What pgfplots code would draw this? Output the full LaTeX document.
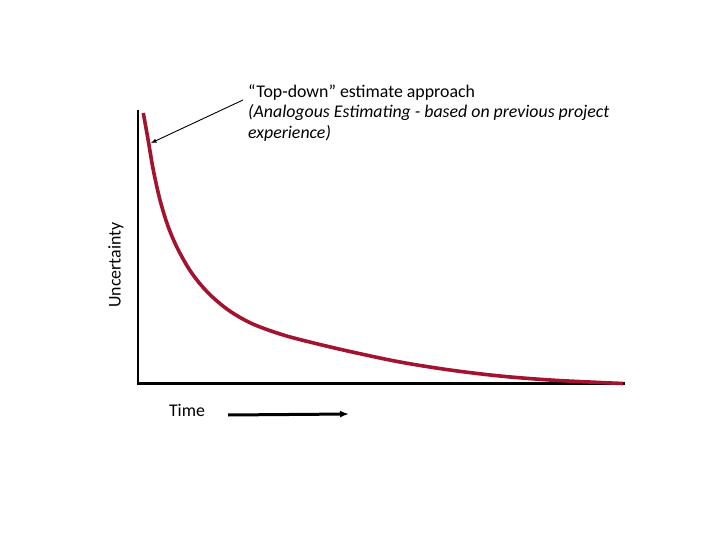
\documentclass[border=0pt]{standalone}
\usepackage{pgfplots}
\pgfplotsset{compat=1.18}
\usetikzlibrary{arrows.meta}
\usepackage{fontspec}
\setmainfont{Carlito}
\definecolor{curvered}{HTML}{A3132F}
\begin{document}
\begin{tikzpicture}
\begin{axis}[
  scale only axis, width=720bp, height=540bp,
  xmin=0, xmax=720, ymin=0, ymax=540, y dir=reverse,
  hide axis, clip=false,
]
\fill[white] (axis cs:0,0) rectangle (axis cs:720,540);
% axes
\draw[black, line width=2.6bp] (axis cs:138,110) -- (axis cs:138,383.3) -- (axis cs:625,383.3);
% curve
\addplot[curvered, line width=3.6bp, smooth, tension=0.55] coordinates {
 (143.3,113) (148.3,141) (153.3,170) (160,200) (168.3,227) (178.3,250)
 (191.7,273) (208.3,293) (228.3,310) (251.7,323.5) (281.7,334.5) (311.7,342.5)
 (350,351.5) (400,362) (450,370) (500,376) (550,380) (600,382.5) (623,383.5)
};
% annotation
\draw[-latex, line width=0.9bp] (axis cs:243,100) -- (axis cs:151,143);
\node[anchor=base west, font=\fontsize{17.9}{20}\selectfont, inner sep=0pt] at (axis cs:248,97.5) {“Top-down” estimate approach};
\node[anchor=base west, font=\fontsize{17.9}{20}\selectfont\itshape, inner sep=0pt] at (axis cs:248,118) {(Analogous Estimating - based on previous project};
\node[anchor=base west, font=\fontsize{17.9}{20}\selectfont\itshape, inner sep=0pt] at (axis cs:248,139) {experience)};
% labels
\node[rotate=90, font=\fontsize{17.9}{20}\selectfont, inner sep=0pt] at (axis cs:116,265) {Uncertainty};
\node[font=\fontsize{17.9}{20}\selectfont, inner sep=0pt] at (axis cs:187,410) {Time};
\draw[-{Latex[length=9bp,width=7bp]}, line width=3bp] (axis cs:228,415) -- (axis cs:349,414);
\end{axis}
\end{tikzpicture}
\end{document}
